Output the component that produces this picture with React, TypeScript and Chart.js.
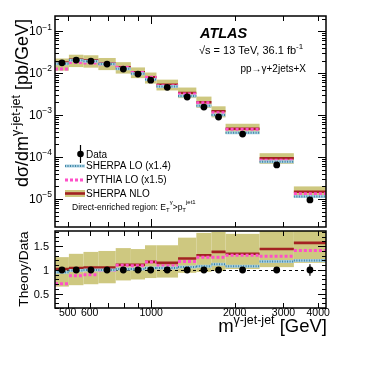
import React, { useEffect, useRef } from "react";
import { Chart, registerables } from "chart.js";
Chart.register(...registerables);

// ---- data ----
const binEdges = [450, 505, 570, 645, 745, 845, 950, 1045, 1250, 1455, 1650, 1855, 2460, 3270, 4270];
const dataXsec = [0.0176, 0.0205, 0.0193, 0.0164, 0.0125, 0.0095, 0.0068, 0.0046, 0.0027, 0.00155, 0.0009, 0.000353, 0.000065, 0.0000095];
const dataErrRel = [0.02, 0.02, 0.02, 0.02, 0.02, 0.02, 0.02, 0.025, 0.025, 0.03, 0.03, 0.035, 0.065, 0.12];
const nloRatio = [1.02, 1.04, 1.05, 1.05, 1.11, 1.11, 1.17, 1.15, 1.24, 1.31, 1.38, 1.34, 1.44, 1.57];
const nloLow = [0.65, 0.68, 0.7, 0.72, 0.78, 0.8, 0.83, 0.84, 0.94, 0.96, 0.98, 1.02, 1.06, 1.15];
const nloHigh = [1.27, 1.34, 1.38, 1.4, 1.46, 1.44, 1.52, 1.52, 1.68, 1.78, 1.8, 1.76, 1.9, 2.1];
const pythiaRatio = [0.71, 0.88, 0.9, 0.99, 1.1, 1.09, 1.17, 1.09, 1.18, 1.27, 1.27, 1.31, 1.29, 1.41];
const sherpaLoRatio = [0.95, 0.99, 1.0, 1.0, 1.02, 1.02, 1.04, 1.04, 1.06, 1.08, 1.12, 1.08, 1.18, 1.2];
const xTickLabels = [500, 600, 1000, 2000, 3000, 4000];
const xTicksMinor = [500, 600, 700, 800, 900, 2000, 3000, 4000];
const xTicksMajor = [1000];
const yTopDecades = [-5, -4, -3, -2, -1];
const yRatioLabels = ["0.5", "1", "1.5"];

const KHAKI = "rgb(206,200,128)";
const NLO_RED = "#a32222";
const PYTHIA = "#ff4fc8";
const SHERPA_LIGHT = "#a8cfe0";
const SHERPA_DARK = "#3f86a6";
const FONT = "'Liberation Sans', Arial, sans-serif";

const W = 382;
const H = 382;

function stepData(vals: number[]) {
  const pts: any[] = [];
  vals.forEach((v, i) => {
    pts.push({ x: binEdges[i], y: v }, { x: binEdges[i + 1], y: v }, { x: binEdges[i + 1], y: null });
  });
  return pts;
}
function centers() {
  return dataXsec.map((_, i) => Math.sqrt(binEdges[i] * binEdges[i + 1]));
}

type Part = { t: string; size: number; dy?: number; weight?: string; style?: string };
function richWidth(ctx: CanvasRenderingContext2D, parts: Part[]) {
  let w = 0;
  for (const p of parts) {
    ctx.font = `${p.style || ""} ${p.weight || ""} ${p.size}px ${FONT}`;
    w += ctx.measureText(p.t).width;
  }
  return w;
}
function drawRich(ctx: CanvasRenderingContext2D, parts: Part[], x: number, y: number, align: "left" | "right" | "center") {
  const w = richWidth(ctx, parts);
  let cx = align === "left" ? x : align === "right" ? x - w : x - w / 2;
  ctx.textAlign = "left";
  for (const p of parts) {
    ctx.font = `${p.style || ""} ${p.weight || ""} ${p.size}px ${FONT}`;
    ctx.fillText(p.t, cx, y + (p.dy || 0));
    cx += ctx.measureText(p.t).width;
  }
}
function line(ctx: CanvasRenderingContext2D, x1: number, y1: number, x2: number, y2: number) {
  ctx.beginPath();
  ctx.moveTo(x1, y1);
  ctx.lineTo(x2, y2);
  ctx.stroke();
}

function drawXTicks(chart: any) {
  const { ctx, chartArea: a, scales } = chart;
  const x = scales.x;
  ctx.strokeStyle = "#000";
  ctx.lineWidth = 1;
  const all = xTicksMinor.map((v) => [v, 5]).concat(xTicksMajor.map((v) => [v, 8]));
  for (const [v, len] of all) {
    const px = Math.round(x.getPixelForValue(v)) + 0.5;
    line(ctx, px, a.bottom, px, a.bottom - len);
    line(ctx, px, a.top, px, a.top + len);
  }
}

export default function App() {
  const topRef = useRef<HTMLCanvasElement>(null);
  const botRef = useRef<HTMLCanvasElement>(null);

  useEffect(() => {
    const xc = centers();
    const nloTop = dataXsec.map((d, i) => d * nloRatio[i]);
    const pyTop = dataXsec.map((d, i) => d * pythiaRatio[i]);
    const shTop = dataXsec.map((d, i) => d * sherpaLoRatio[i]);

    const lineDs = (data: number[], color: string, width: number, dash: number[]) => ({
      data: stepData(data),
      borderColor: color,
      borderWidth: width,
      borderDash: dash,
      pointRadius: 0,
      spanGaps: false,
      borderCapStyle: "butt",
    });

    const topBand = {
      id: "topBand",
      beforeDatasetsDraw(chart: any) {
        const { ctx, chartArea: a, scales } = chart;
        const { x, y } = scales;
        ctx.save();
        ctx.beginPath();
        ctx.rect(a.left, a.top, a.width, a.height);
        ctx.clip();
        ctx.fillStyle = KHAKI;
        dataXsec.forEach((d, i) => {
          const x1 = x.getPixelForValue(binEdges[i]);
          const x2 = x.getPixelForValue(binEdges[i + 1]);
          const y1 = y.getPixelForValue(d * nloHigh[i]);
          const y2 = y.getPixelForValue(d * nloLow[i]);
          ctx.fillRect(x1, y1, x2 - x1, y2 - y1);
        });
        ctx.strokeStyle = "#000";
        ctx.lineWidth = 1.2;
        dataXsec.forEach((d, i) => {
          const px = x.getPixelForValue(xc[i]);
          line(ctx, px, y.getPixelForValue(d * (1 + dataErrRel[i])), px, y.getPixelForValue(d * (1 - dataErrRel[i])));
        });
        ctx.restore();
      },
      afterDraw(chart: any) {
        const { ctx, chartArea: a, scales } = chart;
        const y = scales.y;
        ctx.save();
        drawXTicks(chart);
        ctx.lineWidth = 1;
        for (let d = -6; d <= 0; d++) {
          for (let k = 1; k <= 9; k++) {
            const v = k * Math.pow(10, d);
            if (v < y.min || v > y.max) continue;
            const py = Math.round(y.getPixelForValue(v)) + 0.5;
            const len = k === 1 ? 8 : 4;
            line(ctx, a.left, py, a.left + len, py);
            line(ctx, a.right, py, a.right - len, py);
          }
        }
        ctx.lineWidth = 1.5;
        ctx.strokeRect(a.left, a.top, a.width, a.height);
        ctx.fillStyle = "#000";
        ctx.textBaseline = "middle";
        for (const d of yTopDecades) {
          const py = y.getPixelForValue(Math.pow(10, d));
          drawRich(ctx, [{ t: "10", size: 12 }, { t: "\u2212" + Math.abs(d), size: 8.5, dy: -5 }], a.left - 3, py + 1, "right");
        }
        ctx.textBaseline = "alphabetic";
        drawRich(ctx, [{ t: "ATLAS", size: 14.5, weight: "bold", style: "italic" }], 200, 38, "left");
        drawRich(
          ctx,
          [
            { t: "\u221As = 13 TeV, 36.1 fb", size: 11 },
            { t: "-1", size: 8, dy: -5 },
          ],
          199,
          54,
          "left"
        );
        drawRich(ctx, [{ t: "pp\u2192\u03b3+2jets+X", size: 10 }], 306, 72, "right");

        // legend
        const lx1 = 65, lx2 = 85;
        ctx.strokeStyle = "#000";
        ctx.lineWidth = 1.2;
        line(ctx, 80.5, 145, 80.5, 163);
        ctx.fillStyle = "#000";
        ctx.beginPath();
        ctx.arc(80.5, 154, 3.3, 0, Math.PI * 2);
        ctx.fill();
        ctx.textBaseline = "middle";
        drawRich(ctx, [{ t: "Data", size: 10 }], 86, 155, "left");
        ctx.lineWidth = 3;
        ctx.strokeStyle = SHERPA_LIGHT;
        line(ctx, lx1, 166, lx2, 166);
        ctx.setLineDash([1, 1.5]);
        ctx.strokeStyle = SHERPA_DARK;
        ctx.lineWidth = 2;
        line(ctx, lx1, 166, lx2, 166);
        ctx.setLineDash([3, 2]);
        ctx.strokeStyle = PYTHIA;
        ctx.lineWidth = 3;
        line(ctx, lx1, 180, lx2, 180);
        ctx.setLineDash([]);
        ctx.fillStyle = KHAKI;
        ctx.fillRect(lx1, 190, lx2 - lx1, 7);
        ctx.strokeStyle = NLO_RED;
        ctx.lineWidth = 2.6;
        line(ctx, lx1, 193.5, lx2, 193.5);
        ctx.fillStyle = "#000";
        drawRich(ctx, [{ t: "SHERPA LO (x1.4)", size: 10 }], 86, 166, "left");
        drawRich(ctx, [{ t: "PYTHIA LO (x1.5)", size: 10 }], 86, 180, "left");
        drawRich(ctx, [{ t: "SHERPA NLO", size: 10 }], 86, 194, "left");
        ctx.textBaseline = "alphabetic";
        drawRich(
          ctx,
          [
            { t: "Direct-enriched region: E", size: 8.5 },
            { t: "T", size: 6, dy: 2 },
            { t: "\u03b3", size: 6, dy: -6 },
            { t: ">p", size: 8.5 },
            { t: "T", size: 6, dy: 2 },
            { t: "jet1", size: 6, dy: -6 },
          ],
          72,
          210,
          "left"
        );

        ctx.save();
        ctx.translate(28, 103);
        ctx.rotate(-Math.PI / 2);
        drawRich(
          ctx,
          [
            { t: "d\u03c3/dm", size: 18 },
            { t: "\u03b3-jet-jet", size: 12.5, dy: -8 },
            { t: " [pb/GeV]", size: 18 },
          ],
          0,
          0,
          "center"
        );
        ctx.restore();
        ctx.restore();
      },
    };

    const top = new Chart(topRef.current!, {
      type: "line",
      data: {
        datasets: [
          {
            data: dataXsec.map((v, i) => ({ x: xc[i], y: v })),
            showLine: false,
            pointRadius: 3.4,
            pointBackgroundColor: "#000",
            pointBorderColor: "#000",
            pointBorderWidth: 0,
          } as any,
          { ...lineDs(shTop, SHERPA_DARK, 2, [1, 1.5]) },
          { ...lineDs(shTop, SHERPA_LIGHT, 3, []) },
          { ...lineDs(pyTop, PYTHIA, 3, [3, 2]) },
          { ...lineDs(nloTop, NLO_RED, 2.4, []) },
        ],
      },
      options: {
        responsive: false,
        animation: false,
        events: [],
        layout: { padding: { left: 55, right: W - 326, top: 16, bottom: H - 227 } },
        plugins: { legend: { display: false }, tooltip: { enabled: false } },
        scales: {
          x: { type: "logarithmic", min: binEdges[0], max: binEdges[binEdges.length - 1], display: false },
          y: { type: "logarithmic", min: 2.15e-6, max: 0.23, display: false },
        },
      } as any,
      plugins: [topBand],
    });

    const botPlugin = {
      id: "botPlugin",
      beforeDatasetsDraw(chart: any) {
        const { ctx, chartArea: a, scales } = chart;
        const { x, y } = scales;
        ctx.save();
        ctx.beginPath();
        ctx.rect(a.left, a.top, a.width, a.height);
        ctx.clip();
        ctx.fillStyle = KHAKI;
        nloLow.forEach((lo, i) => {
          const x1 = x.getPixelForValue(binEdges[i]);
          const x2 = x.getPixelForValue(binEdges[i + 1]);
          const y1 = y.getPixelForValue(nloHigh[i]);
          const y2 = y.getPixelForValue(lo);
          ctx.fillRect(x1, y1, x2 - x1, y2 - y1);
        });
        ctx.strokeStyle = "#000";
        ctx.lineWidth = 1;
        ctx.setLineDash([3, 3]);
        const p1 = Math.round(y.getPixelForValue(1)) + 0.5;
        line(ctx, a.left, p1, a.right, p1);
        ctx.setLineDash([]);
        ctx.lineWidth = 1.2;
        dataErrRel.forEach((e, i) => {
          const px = x.getPixelForValue(xc[i]);
          line(ctx, px, y.getPixelForValue(1 + e), px, y.getPixelForValue(1 - e));
        });
        ctx.restore();
      },
      afterDraw(chart: any) {
        const { ctx, chartArea: a, scales } = chart;
        const { x, y } = scales;
        ctx.save();
        drawXTicks(chart);
        ctx.lineWidth = 1;
        for (let k = 2; k <= 18; k++) {
          const v = k / 10;
          const py = Math.round(y.getPixelForValue(v)) + 0.5;
          const len = k % 5 === 0 ? 8 : 4;
          line(ctx, a.left, py, a.left + len, py);
          line(ctx, a.right, py, a.right - len, py);
        }
        ctx.lineWidth = 1.5;
        ctx.strokeRect(a.left, a.top, a.width, a.height);
        ctx.fillStyle = "#000";
        ctx.textBaseline = "middle";
        for (const s of yRatioLabels) {
          drawRich(ctx, [{ t: s, size: 11 }], a.left - 6, y.getPixelForValue(parseFloat(s)) + 1, "right");
        }
        for (const v of xTickLabels) {
          drawRich(ctx, [{ t: String(v), size: 10.5 }], x.getPixelForValue(v), a.bottom + 5, "center");
        }
        ctx.textBaseline = "alphabetic";
        drawRich(
          ctx,
          [
            { t: "m", size: 18.5 },
            { t: "\u03b3-jet-jet", size: 12.5, dy: -8 },
            { t: " [GeV]", size: 18.5 },
          ],
          327,
          332,
          "right"
        );
        ctx.save();
        ctx.translate(28, 269);
        ctx.rotate(-Math.PI / 2);
        drawRich(ctx, [{ t: "Theory/Data", size: 13.7 }], 0, 0, "center");
        ctx.restore();
        ctx.restore();
      },
    };

    const bot = new Chart(botRef.current!, {
      type: "line",
      data: {
        datasets: [
          {
            data: xc.map((c) => ({ x: c, y: 1 })),
            showLine: false,
            pointRadius: 3.4,
            pointBackgroundColor: "#000",
            pointBorderColor: "#000",
            pointBorderWidth: 0,
          } as any,
          { ...lineDs(sherpaLoRatio, SHERPA_DARK, 2, [1, 1.5]) },
          { ...lineDs(sherpaLoRatio, SHERPA_LIGHT, 3, []) },
          { ...lineDs(pythiaRatio, PYTHIA, 3, [3, 2]) },
          { ...lineDs(nloRatio, NLO_RED, 2.6, []) },
        ],
      },
      options: {
        responsive: false,
        animation: false,
        events: [],
        layout: { padding: { left: 55, right: W - 326, top: 231, bottom: H - 308 } },
        plugins: { legend: { display: false }, tooltip: { enabled: false } },
        scales: {
          x: { type: "logarithmic", min: binEdges[0], max: binEdges[binEdges.length - 1], display: false },
          y: { type: "linear", min: 0.2, max: 1.82, display: false },
        },
      } as any,
      plugins: [botPlugin],
    });

    return () => {
      top.destroy();
      bot.destroy();
    };
  }, []);

  const cs: React.CSSProperties = { position: "absolute", left: 0, top: 0, width: W, height: H };
  return (
    <div style={{ position: "fixed", left: 0, top: 0, width: W, height: H, background: "#fff" }}>
      <canvas ref={botRef} width={W} height={H} style={cs} />
      <canvas ref={topRef} width={W} height={H} style={cs} />
    </div>
  );
}
